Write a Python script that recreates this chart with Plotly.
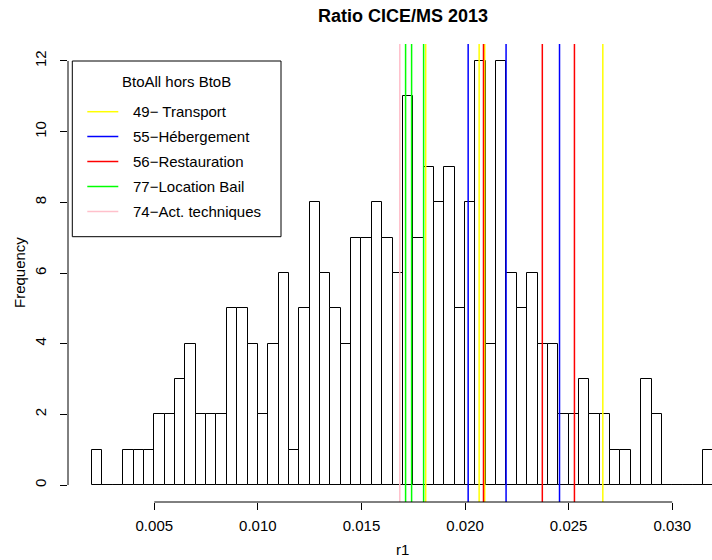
import plotly.graph_objects as go

# ---------------- data ----------------
bin_start = 0.002
bin_width = 0.0005
counts = [1, 0, 0, 1, 1, 1, 2, 2, 3, 4,
          2, 2, 2, 5, 5, 4, 2, 4, 6, 1,
          5, 8, 6, 5, 4, 7, 7, 8, 7, 6,
          11, 7, 9, 8, 9, 5, 8, 12, 4, 12,
          6, 5, 6, 4, 4, 2, 2, 3, 2, 2,
          1, 1, 0, 3, 2, 0, 0, 0, 0, 1]

sector_names = ["49\u2212 Transport", "55\u2212Hébergement", "56\u2212Restauration",
                "77\u2212Location Bail", "74\u2212Act. techniques"]
sector_colors = ["#FFFF00", "#0000FF", "#FF0000", "#00FF00", "#FFC0CB"]
transport = [0.0181, 0.02068, 0.02095, 0.02665]
hebergement = [0.02015, 0.02198, 0.02456]
restauration = [0.02089, 0.02373, 0.02528]
location_bail = [0.01713, 0.01742, 0.0180]
act_techniques = [0.01685]
sector_values = [transport, hebergement, restauration, location_bail, act_techniques]

x_ticks = [0.005, 0.010, 0.015, 0.020, 0.025, 0.030]
x_ticklabels = ["0.005", "0.010", "0.015", "0.020", "0.025", "0.030"]
y_ticks = [0, 2, 4, 6, 8, 10, 12]

title = "Ratio CICE/MS 2013"
xlabel = "r1"
ylabel = "Frequency"
legend_title = "BtoAll hors BtoB"

# ---------------- layout geometry ----------------
W, H = 712, 560
L, R, T, B = 68, 0, 44, 58
PW, PH = W - L - R, H - T - B
XR = [0.000835, 0.03192]
YR = [-0.48, 12.48]
FONT = "Liberation Sans, Arial, Helvetica, sans-serif"
FS = 15


def px2x(px):
    return (px - L) / PW


def py2y(py):
    return (H - B - py) / PH


centers = [bin_start + (i + 0.5) * bin_width for i in range(len(counts))]

fig = go.Figure()
fig.add_trace(go.Bar(
    x=centers, y=counts, width=[bin_width] * len(counts),
    marker=dict(color="white", line=dict(color="black", width=1)),
    showlegend=False, hoverinfo="x+y",
))

for name, col, vals in zip(sector_names, sector_colors, sector_values):
    xs, ys = [], []
    for v in vals:
        xs += [v, v, None]
        ys += [YR[0], YR[1], None]
    fig.add_trace(go.Scatter(x=xs, y=ys, mode="lines", name=name,
                             line=dict(color=col, width=1.5),
                             showlegend=False, hoverinfo="name"))

shapes = []
annotations = []
# axis lines (R style: only span the tick range)
shapes.append(dict(type="line", xref="x", yref="paper", x0=x_ticks[0], x1=x_ticks[-1],
                   y0=0, y1=0, line=dict(color="black", width=1)))
shapes.append(dict(type="line", xref="paper", yref="y", x0=0, x1=0,
                   y0=y_ticks[0], y1=y_ticks[-1], line=dict(color="black", width=1)))

# legend box
shapes.append(dict(type="rect", xref="paper", yref="paper",
                   x0=px2x(72.3), x1=px2x(281), y0=py2y(236.7), y1=py2y(61),
                   line=dict(color="black", width=1), fillcolor="white", layer="above"))
annotations.append(dict(xref="paper", yref="paper", x=px2x(176.7), y=py2y(81),
                        text=legend_title, showarrow=False, xanchor="center", yanchor="middle",
                        font=dict(size=FS, color="black", family=FONT)))
item_y = [111.7, 136.5, 161.5, 186.5, 211.5]
for name, col, yy in zip(sector_names, sector_colors, item_y):
    shapes.append(dict(type="line", xref="paper", yref="paper",
                       x0=px2x(87.3), x1=px2x(118.3), y0=py2y(yy), y1=py2y(yy),
                       line=dict(color=col, width=1.5), layer="above"))
    annotations.append(dict(xref="paper", yref="paper", x=px2x(131), y=py2y(yy),
                            text=name, showarrow=False, xanchor="left", yanchor="middle",
                            font=dict(size=FS, color="black", family=FONT)))

# axis titles
annotations.append(dict(xref="paper", yref="paper", x=px2x(402.7), y=py2y(549),
                        text=xlabel, showarrow=False, xanchor="center", yanchor="middle",
                        font=dict(size=FS, color="black", family=FONT)))
annotations.append(dict(xref="paper", yref="paper", x=px2x(19), y=py2y(273),
                        text=ylabel, showarrow=False, xanchor="center", yanchor="middle",
                        textangle=-90, font=dict(size=FS, color="black", family=FONT)))

fig.update_layout(
    width=W, height=H,
    margin=dict(l=L, r=R, t=T, b=B, pad=0),
    plot_bgcolor="white", paper_bgcolor="white",
    bargap=0,
    font=dict(family=FONT, size=FS, color="black"),
    title=dict(text="<b>" + title + "</b>", x=403 / W, xanchor="center",
               y=1 - 16 / H, yanchor="middle", font=dict(size=18, family=FONT, color="black")),
    xaxis=dict(range=XR, showgrid=False, zeroline=False, showline=False,
               tickvals=x_ticks, ticktext=x_ticklabels, ticks="outside", ticklen=7,
               tickcolor="black", tickwidth=1, ticklabelstandoff=3,
               tickfont=dict(size=FS, family=FONT, color="black")),
    yaxis=dict(range=YR, showgrid=False, zeroline=False, showline=False,
               tickvals=y_ticks, ticks="outside", ticklen=7, tickangle=-90,
               tickcolor="black", tickwidth=1, ticklabelstandoff=8,
               tickfont=dict(size=FS, family=FONT, color="black")),
    shapes=shapes, annotations=annotations, showlegend=False,
)

fig.write_html("out.html", config={"displayModeBar": False},
               post_script="document.body.style.margin='0';document.body.style.overflow='hidden';")
